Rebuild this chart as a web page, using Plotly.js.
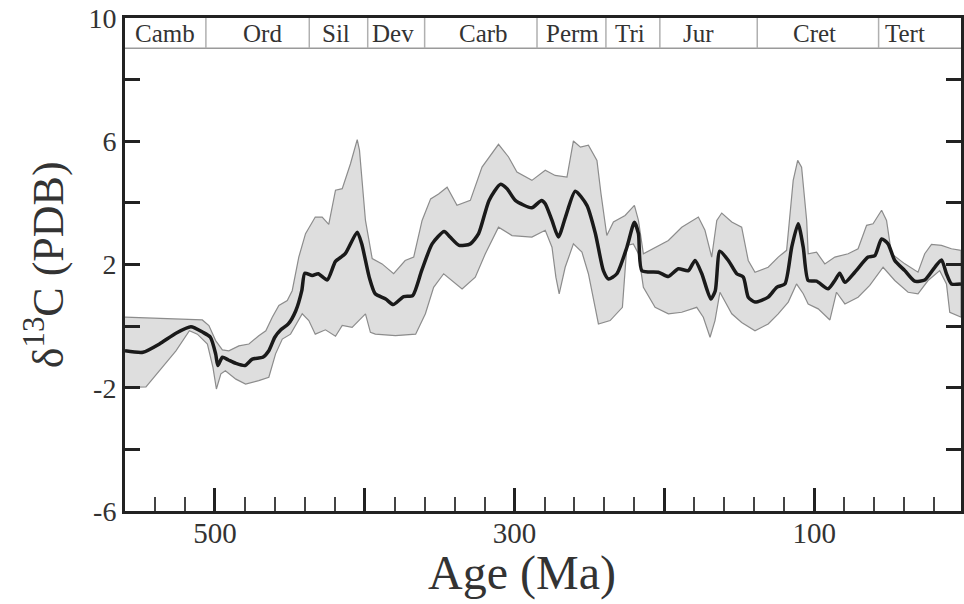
<!DOCTYPE html>
<html>
<head>
<meta charset="utf-8">
<script src="https://cdn.plot.ly/plotly-3.0.1.min.js"></script>
<style>html,body{margin:0;padding:0;background:#fff;}</style>
</head>
<body>
<div id="chart" style="width:964px;height:604px;"></div>
<script>
// Mean δ13C curve
const meanAge = [560,548,537,526,516,508,503,499.5,498,495,491,486,480,475,468,464,460,456,451,446,442,440,435,431,425,419.5,413,405,402,397,393,386,381,374,368,362,355,347,343,337,329.5,324,317,309.5,305,299.5,288.5,282,279.5,275,270.7,266,259.5,251.7,246,240.7,237.3,231.7,225,220,217.3,215,204,197.3,190.7,184,179.5,175,169,166,163,157.3,151.7,147.3,144,139.5,130.7,125,119.5,115,110.7,107.3,104,98.4,90.7,86.2,83,79.5,72.9,64,59.5,55,50.7,46.2,39.5,33,26.2,19.5,15,11.7,8.4,2];
const meanD13C = [-0.80,-0.85,-0.58,-0.23,-0.02,-0.20,-0.36,-0.90,-1.28,-1.01,-1.10,-1.21,-1.28,-1.07,-1.01,-0.80,-0.36,-0.12,0.07,0.50,1.15,1.72,1.64,1.70,1.50,2.10,2.35,3.05,2.67,1.59,1.05,0.88,0.70,0.96,0.99,1.80,2.67,3.07,2.89,2.62,2.67,3.00,4.08,4.60,4.46,4.08,3.84,4.08,3.97,3.43,2.89,3.54,4.38,3.92,3.00,1.80,1.53,1.70,2.56,3.37,3.00,1.80,1.75,1.61,1.86,1.80,2.13,1.70,0.88,1.15,2.43,2.13,1.70,1.59,0.94,0.78,0.94,1.26,1.37,2.56,3.32,2.56,1.48,1.46,1.21,1.48,1.72,1.42,1.75,2.24,2.29,2.83,2.67,2.13,1.80,1.46,1.50,1.91,2.15,1.70,1.37,1.37];

// Upper envelope
const upperAge = [560,508.4,504,499.5,495,490.7,484,477.3,470.7,466,461.7,457.3,451.7,448.4,444,439.5,433,428.4,424,419.5,415,409.5,405,403.5,399.5,395,388.4,380.7,373,367.3,361.7,356,350.7,345,338.4,329.5,321.7,310.7,304,298.4,288.4,279.5,272.9,265,260.7,256,250.7,245,242.3,238.4,234,226.2,220,217.3,214,204,197.3,188.4,177.3,172.9,168.4,165,161.7,155,148.4,144,139.5,130.7,124,118.4,114,111,108.4,105,104,98.4,92.9,86.2,77.3,70.7,65,60.7,55,51.7,48.4,39.5,30.7,26.2,21.7,15,8.4,2];
const upperD13C = [0.29,0.20,0.02,-0.47,-0.77,-0.80,-0.64,-0.58,-0.31,-0.15,0.29,0.67,0.83,1.15,2.24,3.00,3.54,3.54,3.30,4.41,4.46,5.27,6.05,5.71,3.43,2.19,2.02,1.70,2.13,2.24,3.43,4.13,4.29,4.51,3.92,4.08,5.16,5.90,5.49,5.00,4.73,5.06,4.89,4.84,6.01,5.81,5.87,5.38,4.30,2.94,3.38,3.59,3.92,3.43,2.35,2.62,2.78,3.21,3.54,3.11,2.24,3.43,3.67,3.38,3.21,2.13,1.75,1.91,2.24,2.46,4.73,5.38,5.16,3.43,2.35,2.40,2.02,2.24,2.35,2.51,3.27,3.32,3.76,3.43,2.35,2.02,1.75,2.35,2.65,2.62,2.51,2.46];

// Lower envelope
const lowerAge = [560,546,537,526,517,511.7,505,501.3,499,496,493,486,479.5,470.7,464,459.5,455,449.5,441.7,437.3,433,426.2,419.5,415,408.4,399.5,396.2,392.9,379.5,366,359.5,354,347.3,341.7,335,326.2,319.5,310.7,301.7,288.4,279.5,275,272.4,270.2,266.2,260.7,255,250.7,246.2,244,236.2,228,225,220.7,217.3,214,206.2,197.3,188.4,178.4,174,169.5,166.2,162.9,155,148.4,139.5,130.7,124,117.3,111.8,107.3,104,97.3,89.5,85.1,79.5,70.7,62.9,54,46.2,37.3,30.7,24,16.2,11.7,9.5,2];
const lowerD13C = [-1.99,-1.97,-1.45,-0.80,-0.15,-0.26,-0.58,-1.34,-2.04,-1.55,-1.45,-1.72,-1.88,-1.77,-1.66,-0.90,-0.42,-0.26,0.40,0.18,-0.26,-0.12,-0.33,0.02,-0.04,0.40,-0.20,-0.26,-0.31,-0.26,0.40,1.26,1.70,1.48,1.21,1.59,2.35,3.21,2.94,2.89,3.11,2.56,1.59,1.05,1.91,2.67,2.40,1.70,0.61,0.07,0.18,0.61,2.62,2.67,2.35,1.26,0.61,0.40,0.45,0.61,0.29,-0.36,0.18,1.10,0.40,0.12,-0.15,0.07,0.40,0.78,1.37,1.05,0.72,0.56,0.20,1.10,0.72,0.94,1.32,1.91,1.48,1.10,1.05,1.48,1.80,1.37,0.45,0.29];

// Geologic periods
const periodNames = ["Camb","Ord","Sil","Dev","Carb","Perm","Tri","Jur","Cret","Tert"];
const periodLabelAge = [533,468,419.5,381,321,261.5,223,177,100,39.5];
const periodBoundaries = [506,437,398,360,285,239,203,138,57];

// Axis ticks
const xLabelTicks = [500,300,100];
const xLabelText = ["500","300","100"];
const xUnlabeledTicks = [400,200];
const yLabelTicks = [-6,-2,2,6,10];
const yLabelText = ["-6","-2","2","6","10"];

const X_MIN = 560, X_MAX = 2;
const BAND_LOW = 9.02, BAND_HIGH = 10;

const envX = upperAge.concat(lowerAge.slice().reverse());
const envY = upperD13C.concat(lowerD13C.slice().reverse());

const traces = [
  {
    x: envX, y: envY, type: 'scatter', mode: 'lines',
    fill: 'toself', fillcolor: '#dedede',
    line: {color: '#8c8c8c', width: 1.2},
    hoverinfo: 'skip', showlegend: false
  },
  {
    x: meanAge, y: meanD13C, type: 'scatter', mode: 'lines',
    line: {color: '#1a1a1a', width: 3.5, shape: 'spline', smoothing: 0.6},
    showlegend: false
  },
  {
    // invisible trace to bind the secondary tick axis
    x: [X_MIN], y: [0], xaxis: 'x2', yaxis: 'y', type: 'scatter', mode: 'markers',
    marker: {opacity: 0}, hoverinfo: 'skip', showlegend: false
  }
];

const shapes = [
  {type: 'line', xref: 'x', yref: 'y', x0: X_MIN, x1: X_MAX, y0: BAND_LOW, y1: BAND_LOW,
   line: {color: '#9a9a9a', width: 1.5}}
];
periodBoundaries.forEach(b => {
  shapes.push({type: 'line', xref: 'x', yref: 'y', x0: b, x1: b, y0: BAND_LOW, y1: BAND_HIGH,
    line: {color: '#b0b0b0', width: 1.5}});
});

const annotations = periodNames.map((n, i) => ({
  x: periodLabelAge[i], y: (BAND_LOW + BAND_HIGH) / 2, xref: 'x', yref: 'y',
  text: n, showarrow: false, xanchor: 'center', yanchor: 'middle',
  font: {family: 'Liberation Serif', size: 25, color: '#333'}
}));
annotations.push({
  x: 0.475, y: -0.066, xref: 'paper', yref: 'paper', xanchor: 'center', yanchor: 'top',
  text: 'Age (Ma)', showarrow: false,
  font: {family: 'Liberation Serif', size: 48, color: '#333'}
});
annotations.push({
  x: -0.096, y: 0.5, xref: 'paper', yref: 'paper', xanchor: 'center', yanchor: 'middle',
  text: 'δ<sup>13</sup>C (PDB)', textangle: -90, showarrow: false,
  font: {family: 'Liberation Serif', size: 44, color: '#333'}
});

const layout = {
  width: 964, height: 604,
  margin: {l: 125, r: 3, t: 18, b: 93},
  paper_bgcolor: '#ffffff', plot_bgcolor: '#ffffff',
  font: {family: 'Liberation Serif', color: '#333'},
  xaxis: {
    range: [X_MIN, X_MAX], showgrid: false, zeroline: false,
    showline: true, linecolor: '#222', linewidth: 3, mirror: true,
    tickmode: 'array', tickvals: xLabelTicks, ticktext: xLabelText,
    ticks: 'inside', ticklen: 23, tickwidth: 3, tickcolor: '#222',
    ticklabelstandoff: -6,
    tickfont: {family: 'Liberation Serif', size: 29, color: '#333'},
    minor: {tickmode: 'linear', tick0: 0, dtick: 20, ticks: 'inside', ticklen: 14, tickwidth: 2, tickcolor: '#444', showgrid: false}
  },
  xaxis2: {
    overlaying: 'x', matches: 'x', side: 'bottom', range: [X_MIN, X_MAX],
    showgrid: false, zeroline: false, showline: false, showticklabels: false,
    tickmode: 'array', tickvals: xUnlabeledTicks,
    ticks: 'inside', ticklen: 23, tickwidth: 3, tickcolor: '#222'
  },
  yaxis: {
    range: [-6, 10], showgrid: false, zeroline: false,
    showline: true, linecolor: '#222', linewidth: 3, mirror: 'ticks',
    tickmode: 'array', tickvals: yLabelTicks, ticktext: yLabelText,
    ticks: 'inside', ticklen: 15, tickwidth: 3, tickcolor: '#222',
    tickfont: {family: 'Liberation Serif', size: 28, color: '#333'},
    minor: {tickmode: 'linear', tick0: 0, dtick: 2, ticks: 'inside', ticklen: 15, tickwidth: 3, tickcolor: '#222', showgrid: false}
  },
  shapes: shapes,
  annotations: annotations
};

Plotly.newPlot('chart', traces, layout, {displayModeBar: false, staticPlot: true});
</script>
</body>
</html>
